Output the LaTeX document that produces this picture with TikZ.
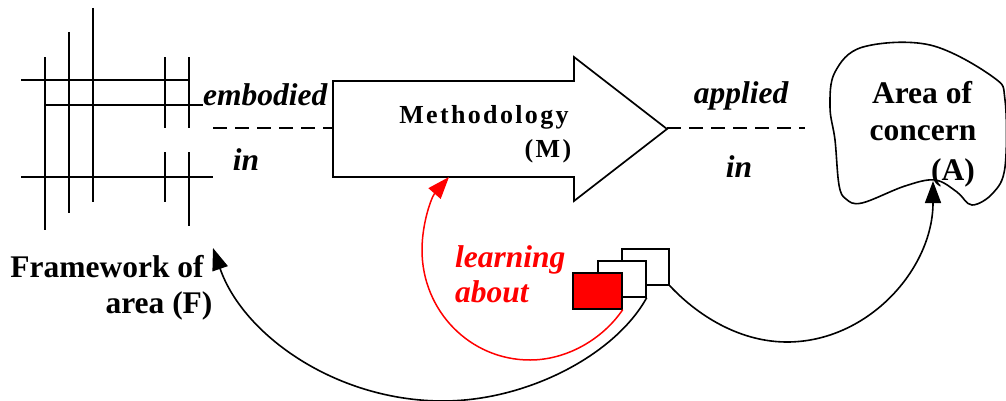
\documentclass[tikz,border=0pt]{standalone}
\usepackage{fontspec}
\setmainfont{Liberation Serif}
\usetikzlibrary{arrows.meta}
\begin{document}
\begin{tikzpicture}[x=1pt,y=1pt,
  gridline/.style={line width=2pt},
  big/.style={font=\fontsize{31.5}{34}\selectfont\bfseries, inner sep=0pt},
  bigit/.style={font=\fontsize{31.5}{34}\selectfont\bfseries\itshape, inner sep=0pt},
  meth/.style={font=\fontsize{26}{28}\selectfont\bfseries\addfontfeature{LetterSpace=9}, inner sep=0pt},
  dashline/.style={line width=1.6pt, dash pattern=on 14pt off 8pt},
  conn/.style={line width=1.6pt, -{Triangle[length=22pt,width=16pt]}},
  box/.style={draw, line width=1.4pt, fill=white, inner sep=0pt, minimum height=36pt}
]
\useasboundingbox (0,0) rectangle (1006,400);

% framework grid
\draw[gridline] (21,320) -- (190,320);
\draw[gridline] (45,295) -- (203,295);
\draw[gridline] (21,223) -- (213,223);
\draw[gridline] (45,343) -- (45,170);
\draw[gridline] (69,368) -- (69,187);
\draw[gridline] (93,392) -- (93,198);
\draw[gridline] (165,343) -- (165,272);
\draw[gridline] (165,248) -- (165,198);
\draw[gridline] (189,343) -- (189,272);
\draw[gridline] (189,248) -- (189,174);

% methodology arrow
\draw[line width=1.7pt] (333,319) -- (574,319) -- (574,343) -- (667,271)
  -- (574,199) -- (574,223) -- (333,223) -- cycle;
\coordinate (methleft) at (333,272);
\coordinate (methtip) at (667,272);
\coordinate (learnend) at (449,223);
\node[meth, anchor=base] (methtext) at (484,277) {Methodology};
\node[meth, anchor=base] (mtext) at (548,243) {(M)};

% dashed connectors
\coordinate (embstart) at (213,272);
\draw[dashline] (embstart) -- (methleft);
\coordinate (append) at (805,272);
\draw[dashline] (methtip) -- (append);

\node[bigit, anchor=base west] (embodied) at (203,295) {embodied};
\node[bigit, anchor=base] (in1) at (246,230) {in};
\node[bigit, anchor=base] (applied) at (741,297) {applied};
\node[bigit, anchor=base] (in2) at (739,223) {in};

% area of concern blob
\draw[line width=1.6pt] plot[smooth cycle, tension=0.6] coordinates {
  (835,328) (863,353) (930,355) (993,323) (1005,300) (1005,233) (993,207)
  (972,195) (957,208) (935,220) (905,214) (862,197) (846,201) (839,215)
  (835,260) (830,293)};
\coordinate (areadip) at (933,219);
\node[big, anchor=base] (area1) at (922,297) {Area of};
\node[big, anchor=base] (area2) at (923,260) {concern};
\node[big, anchor=base] (area3) at (953,220) {(A)};

% framework label
\node[big, anchor=base] (fw1) at (107,123) {Framework of};
\node[big, anchor=base] (fw2) at (159,87) {area (F)};
\coordinate (fwtip) at (213,152);

% boxes
\node[box, minimum width=47pt] (backbox) at (645.5,133) {};
\node[box, minimum width=48pt] (midbox) at (622,121) {};
\node[box, minimum width=49pt, fill=red] (redbox) at (597.5,109) {};

% learning about
\node[bigit, text=red, anchor=base west] (learn1) at (455,133) {learning};
\node[bigit, text=red, anchor=base west] (learn2) at (455,98) {about};

% connectors
\draw[conn, red, line width=1.5pt] (redbox.south east) .. controls (602,60) and (566,40) .. (530,40)
  .. controls (470,40) and (422,89) .. (422,150)
  .. controls (422,177) and (431.5,203) .. (learnend);
\draw[conn] (midbox.south east) .. controls (615,45) and (527,-1) .. (443,-1)
  .. controls (336,-1) and (243,65) .. (fwtip);
\draw[conn] (backbox.south east) .. controls (701,81) and (743,58) .. (787,58)
  .. controls (868,58) and (933,131) .. (areadip);
\end{tikzpicture}
\end{document}
